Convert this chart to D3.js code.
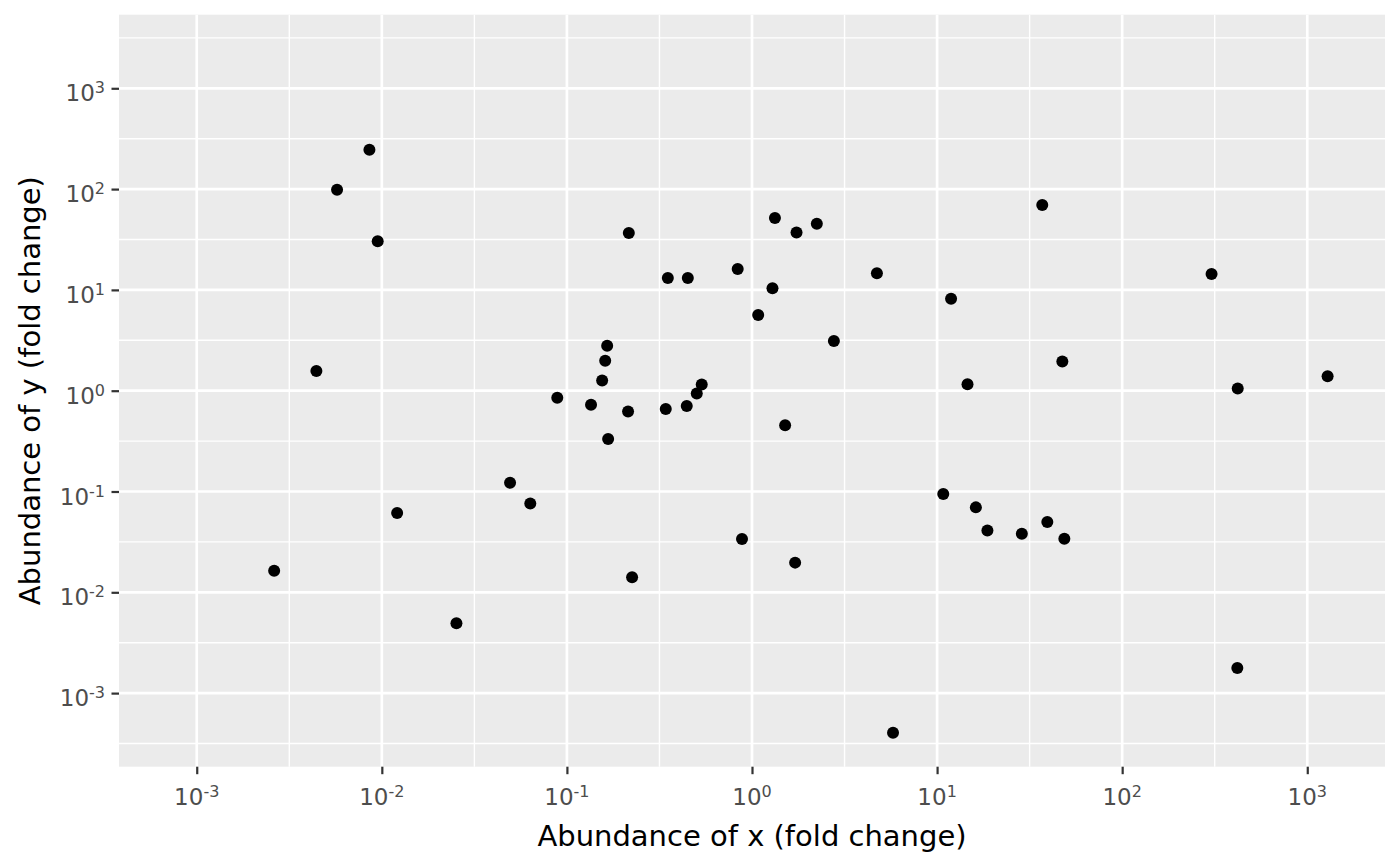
<!DOCTYPE html>
<html lang="en">
<head>
  <meta charset="utf-8">
  <script src="https://d3js.org/d3.v7.min.js"></script>
  <style>
    body { margin: 0; background: #fff; }
    text { font-family: "DejaVu Sans", sans-serif; }
  </style>
</head>
<body>
<svg width="1400" height="866"></svg>
<script>
// fold change readings, x and y per point
var xValues = [0.00262, 0.00443, 0.00573, 0.00857, 0.0095, 0.0121, 0.0253, 0.0493, 0.0634, 0.0887,
               0.135, 0.155, 0.161, 0.165, 0.167, 0.214, 0.216, 0.225, 0.342, 0.351,
               0.444, 0.450, 0.503, 0.535, 0.837, 0.883, 1.08, 1.29, 1.33, 1.51,
               1.71, 1.74, 2.24, 2.77, 4.73, 5.78, 10.8, 11.9, 14.6, 16.2,
               18.7, 28.7, 37.0, 39.4, 47.5, 48.7, 304, 421, 419, 1288];
var yValues = [0.0164, 1.57, 98.6, 246, 30.3, 0.0612, 0.00492, 0.122, 0.0762, 0.853,
               0.726, 1.26, 1.98, 2.79, 0.332, 0.623, 36.7, 0.0141, 0.658, 13.1,
               0.705, 13.1, 0.94, 1.15, 16.1, 0.0338, 5.64, 10.4, 51.7, 0.453,
               0.0197, 37.2, 45.4, 3.11, 14.6, 0.000405, 0.0944, 8.18, 1.16, 0.0696,
               0.0411, 0.0381, 69.5, 0.0498, 1.95, 0.034, 14.4, 1.05, 0.00177, 1.39];
var tickExponents = [-3, -2, -1, 0, 1, 2, 3];
var minorExponents = [-3.5, -2.5, -1.5, -0.5, 0.5, 1.5, 2.5, 3.5];
var xLimitExp = 3.42;
var yLimitExp = 3.73;

var svg = d3.select("svg");
var panel = { left: 119, top: 14.7, right: 1385, bottom: 766.7 };

var x = d3.scaleLog()
  .domain([Math.pow(10, -xLimitExp), Math.pow(10, xLimitExp)])
  .range([panel.left, panel.right]);
var y = d3.scaleLog()
  .domain([Math.pow(10, -yLimitExp), Math.pow(10, yLimitExp)])
  .range([panel.bottom, panel.top]);

var clipX = function(e) { var p = x(Math.pow(10, e)); return p >= panel.left && p <= panel.right; };
var clipY = function(e) { var p = y(Math.pow(10, e)); return p >= panel.top && p <= panel.bottom; };

svg.append("rect")
  .attr("x", panel.left)
  .attr("y", panel.top)
  .attr("width", panel.right - panel.left)
  .attr("height", panel.bottom - panel.top)
  .attr("fill", "#EBEBEB");

var grid = svg.append("g");
// minor grid
grid.selectAll(".minx").data(minorExponents.filter(clipX)).enter().append("line")
  .attr("x1", function(d) { return x(Math.pow(10, d)); })
  .attr("x2", function(d) { return x(Math.pow(10, d)); })
  .attr("y1", panel.top).attr("y2", panel.bottom)
  .attr("stroke", "#fff").attr("stroke-width", 1.4);
grid.selectAll(".miny").data(minorExponents.filter(clipY)).enter().append("line")
  .attr("y1", function(d) { return y(Math.pow(10, d)); })
  .attr("y2", function(d) { return y(Math.pow(10, d)); })
  .attr("x1", panel.left).attr("x2", panel.right)
  .attr("stroke", "#fff").attr("stroke-width", 1.4);
// major grid
grid.selectAll(".majx").data(tickExponents).enter().append("line")
  .attr("x1", function(d) { return x(Math.pow(10, d)); })
  .attr("x2", function(d) { return x(Math.pow(10, d)); })
  .attr("y1", panel.top).attr("y2", panel.bottom)
  .attr("stroke", "#fff").attr("stroke-width", 2.7);
grid.selectAll(".majy").data(tickExponents).enter().append("line")
  .attr("y1", function(d) { return y(Math.pow(10, d)); })
  .attr("y2", function(d) { return y(Math.pow(10, d)); })
  .attr("x1", panel.left).attr("x2", panel.right)
  .attr("stroke", "#fff").attr("stroke-width", 2.7);

// axes: ticks only, labels drawn as 10 + superscript
var xAxis = svg.append("g")
  .attr("transform", "translate(0," + panel.bottom + ")")
  .call(d3.axisBottom(x).tickValues(tickExponents.map(function(e) { return Math.pow(10, e); }))
    .tickSize(7.5).tickFormat(""));
var yAxis = svg.append("g")
  .attr("transform", "translate(" + panel.left + ",0)")
  .call(d3.axisLeft(y).tickValues(tickExponents.map(function(e) { return Math.pow(10, e); }))
    .tickSize(7.5).tickFormat(""));
svg.selectAll(".domain").remove();
svg.selectAll(".tick line").attr("stroke", "#333333").attr("stroke-width", 2.2);

function powLabel(sel) {
  sel.text("10")
    .append("tspan")
    .attr("dy", "-0.5em")
    .attr("font-size", "16px")
    .text(function(d) { return d; });
}

svg.append("g").selectAll("text").data(tickExponents).enter().append("text")
  .attr("x", function(d) { return x(Math.pow(10, d)); })
  .attr("y", 805)
  .attr("text-anchor", "middle")
  .attr("font-size", "23px")
  .attr("fill", "#4D4D4D")
  .call(powLabel);

svg.append("g").selectAll("text").data(tickExponents).enter().append("text")
  .attr("x", 105)
  .attr("y", function(d) { return y(Math.pow(10, d)) + 13; })
  .attr("text-anchor", "end")
  .attr("font-size", "23px")
  .attr("fill", "#4D4D4D")
  .call(powLabel);

svg.append("text")
  .attr("x", (panel.left + panel.right) / 2)
  .attr("y", 846)
  .attr("text-anchor", "middle")
  .attr("font-size", "29px")
  .attr("fill", "#000")
  .text("Abundance of x (fold change)");

svg.append("text")
  .attr("transform", "translate(40," + (panel.top + panel.bottom) / 2 + ") rotate(-90)")
  .attr("text-anchor", "middle")
  .attr("font-size", "29px")
  .attr("fill", "#000")
  .text("Abundance of y (fold change)");

svg.append("g").selectAll("circle")
  .data(d3.range(xValues.length))
  .enter().append("circle")
  .attr("cx", function(i) { return x(xValues[i]); })
  .attr("cy", function(i) { return y(yValues[i]); })
  .attr("r", 6)
  .attr("fill", "#000");
</script>
</body>
</html>
